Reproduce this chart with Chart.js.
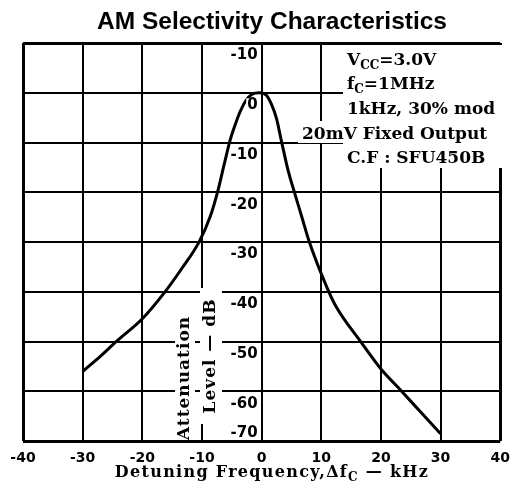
<!DOCTYPE html>
<html>
<head>
<meta charset="utf-8">
<script src="https://cdn.jsdelivr.net/npm/chart.js@4.4.0/dist/chart.umd.min.js"></script>
<style>
  html, body { margin: 0; padding: 0; background: #fff; }
</style>
</head>
<body>
<canvas id="selectivityChart" width="519" height="495"></canvas>
<script>
// 曲线数据
const detuneKHz = [-30, -27, -24.2, -20, -16.2, -13.5, -10.5, -8.6, -7.4, -6.3, -5.3, -4.4, -3.6, -2.6, -1.6, -0.4,
                   0.8, 1.6, 2.5, 3.3, 4.5, 5.5, 6.8, 8, 10.8, 12.4, 16.6, 20, 23.5, 27, 30];
const attenDb = [-56, -52.9, -49.8, -45.4, -40, -35.5, -30, -24.8, -20, -14.5, -9.6, -6.3, -3.8, -1.5, -0.3, 0,
                 -0.5, -2.2, -5.2, -9.6, -15.9, -20, -25.2, -30, -38.7, -42.8, -50, -55.5, -60, -64.6, -68.5];

// 刻度
const xTicks = [-40, -30, -20, -10, 0, 10, 20, 30, 40];
const yTicks = [10, 0, -10, -20, -30, -40, -50, -60, -70];
const yTickLabels = ['-10', '0', '-10', '-20', '-30', '-40', '-50', '-60', '-70'];

// 文字
const chartTitle = 'AM Selectivity Characteristics';
const yTitleLines = ['Attenuation', 'Level \u2014 dB'];
// 条件说明: [文字, 是否下标]
const conditionLines = [
    [['V', false], ['CC', true], ['=3.0V', false]],
    [['f', false], ['C', true], ['=1MHz', false]],
    [['1kHz, 30% mod', false]],
    [['20mV Fixed Output', false]],
    [['C.F : SFU450B', false]]
];
const xTitleParts = [['Detuning Frequency,\u0394f', false], ['C', true], [' \u2014 kHz', false]];

const serif = '"DejaVu Serif", "Liberation Serif", serif';
const sans = '"DejaVu Sans", "Liberation Sans", sans-serif';

// 绘制带下标的文字
function drawParts(ctx, parts, x, baseline, size, weight, align) {
    const subSize = Math.round(size * 0.72);
    let total = 0;
    parts.forEach(([t, sub]) => {
        ctx.font = `${weight} ${sub ? subSize : size}px ${serif}`;
        total += ctx.measureText(t).width;
    });
    let cx = align === 'center' ? x - total / 2 : (align === 'right' ? x - total : x);
    ctx.textAlign = 'left';
    ctx.textBaseline = 'alphabetic';
    parts.forEach(([t, sub]) => {
        ctx.font = `${weight} ${sub ? subSize : size}px ${serif}`;
        ctx.fillText(t, cx, baseline + (sub ? 4 : 0));
        cx += ctx.measureText(t).width;
    });
}

const overlayPlugin = {
    id: 'overlay',
    beforeDatasetsDraw(chart) {
        const { ctx } = chart;
        ctx.save();
        ctx.fillStyle = '#fff';
        // 条件说明的白底
        ctx.fillRect(343, 45, 160, 123);
        ctx.fillRect(298, 121, 46, 22);
        // 纵轴标题的白底
        ctx.fillRect(175, 316, 20, 123);
        ctx.fillRect(200, 288, 22, 136);

        ctx.fillStyle = '#000';
        const bases = [65, 89, 114, 139, 163];
        const lefts = [347, 347, 347, 302, 347];
        conditionLines.forEach((parts, i) => {
            drawParts(ctx, parts, lefts[i], bases[i], 17, 'bold', 'left');
        });

        // 纵轴标题（竖排）
        ctx.font = `bold 17px ${serif}`;
        ctx.letterSpacing = '1px';
        ctx.textAlign = 'center';
        ctx.textBaseline = 'middle';
        const cols = [[185, 378], [211, 356]];
        yTitleLines.forEach((t, i) => {
            ctx.save();
            ctx.translate(cols[i][0], cols[i][1]);
            ctx.rotate(-Math.PI / 2);
            ctx.fillText(t, 0, 0);
            ctx.restore();
        });
        ctx.restore();
    },
    afterDatasetsDraw(chart) {
        const { ctx, chartArea: a, scales: { x, y } } = chart;
        ctx.save();
        ctx.font = `bold 15px ${sans}`;
        ctx.textAlign = 'right';
        ctx.textBaseline = 'middle';
        const right = x.getPixelForValue(0) - 4;
        yTicks.forEach((v, i) => {
            let py = y.getPixelForValue(v) + 12.5;
            if (py > a.bottom - 5) py = a.bottom - 8;
            const label = yTickLabels[i];
            if (v === 0) {
                const w = ctx.measureText(label).width;
                ctx.fillStyle = '#fff';
                ctx.fillRect(right - w - 1, py - 7, w + 2, 13);
            }
            ctx.fillStyle = '#000';
            ctx.fillText(label, right, py);
        });
        ctx.restore();
    },
    afterDraw(chart) {
        const { ctx } = chart;
        ctx.save();
        // 图表标题
        ctx.fillStyle = '#000';
        ctx.font = 'bold 24.5px "Liberation Sans", Arial, sans-serif';
        ctx.textAlign = 'center';
        ctx.textBaseline = 'alphabetic';
        ctx.fillText(chartTitle, 272, 29);
        // 横轴标题
        ctx.letterSpacing = '1.3px';
        drawParts(ctx, xTitleParts, 272, 477, 16, 'bold', 'center');
        ctx.restore();
    }
};

const edgeWidth = (edges) => (c) => (c.tick && edges.includes(c.tick.value) ? 3 : 2);

new Chart(document.getElementById('selectivityChart'), {
    type: 'scatter',
    data: {
        datasets: [{
            data: detuneKHz.map((v, i) => ({ x: v, y: attenDb[i] })),
            showLine: true,
            borderColor: '#000',
            borderWidth: 3,
            pointRadius: 0,
            cubicInterpolationMode: 'monotone',
            fill: false
        }]
    },
    options: {
        responsive: false,
        animation: false,
        devicePixelRatio: 1,
        layout: { padding: { left: 23, right: 13, top: 43, bottom: 19 } },
        plugins: {
            legend: { display: false },
            tooltip: { enabled: false },
            title: { display: false }
        },
        scales: {
            x: {
                type: 'linear',
                min: -40,
                max: 40,
                afterBuildTicks: (s) => { s.ticks = xTicks.map(v => ({ value: v })); },
                ticks: {
                    color: '#000',
                    padding: 9,
                    font: { family: sans, size: 14, weight: 'bold' },
                    callback: (v) => String(v)
                },
                grid: { color: '#000', lineWidth: edgeWidth([-40, 40]), drawTicks: false },
                border: { display: false }
            },
            y: {
                type: 'linear',
                min: -70,
                max: 10,
                afterBuildTicks: (s) => { s.ticks = yTicks.map(v => ({ value: v })); },
                ticks: { display: false },
                grid: { color: '#000', lineWidth: edgeWidth([10, -70]), drawTicks: false },
                border: { display: false }
            }
        }
    },
    plugins: [overlayPlugin]
});
</script>
</body>
</html>
